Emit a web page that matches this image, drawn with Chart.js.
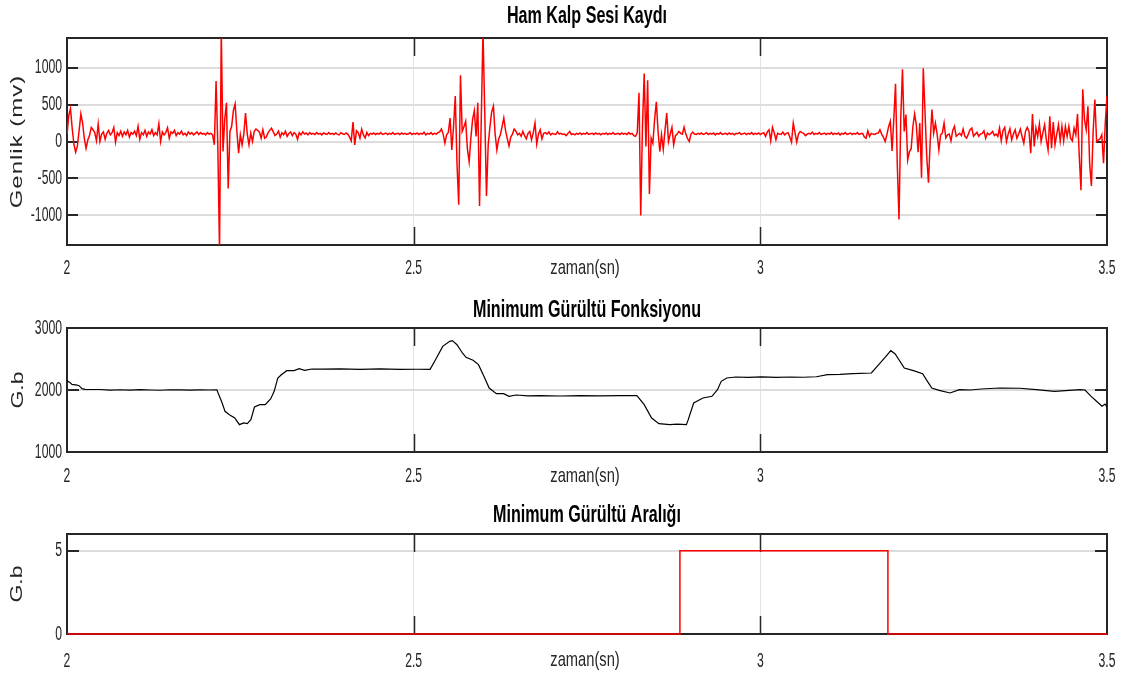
<!DOCTYPE html>
<html>
<head>
<meta charset="utf-8">
<script src="https://cdn.jsdelivr.net/npm/chart.js@4.4.1/dist/chart.umd.min.js"></script>
<style>
  html, body { margin: 0; padding: 0; background: #fff; }
  #wrap { position: relative; width: 1131px; height: 678px; overflow: hidden; }
  canvas { position: absolute; left: 0; }
</style>
</head>
<body>
<div id="wrap">
  <canvas id="raw" width="1131" height="285" style="top:0px"></canvas>
  <canvas id="noise" width="1131" height="205" style="top:285px"></canvas>
  <canvas id="range" width="1131" height="188" style="top:490px"></canvas>
</div>
<script>
// ---- time axis shared by the three panels ----
const startTime = 2;          // s
const sampleRate = 400;       // Hz, raw recording
const xTicks = [2, 2.5, 3, 3.5];

// ---- raw heart sound recording (mV), one value per sample ----
const rawMv = [
  91, 350, 445, 180, -40, -145, -60, 150, 373, 250,
  40, -91, 20, 80, 190, 160, 120, 10, 236, 0,
  100, 130, 30, 110, 150, 90, 120, 190, -10, 120,
  80, 140, 70, 130, 90, 150, 60, 120, 100, 140,
  80, 205, 30, 120, 90, 150, 70, 130, 100, 160,
  80, 120, 90, 240, 0, 130, 90, 120, 185, 45,
  130, 110, 150, 80, 120, 100, 140, 90, 110, 80,
  130, 100, 120, 90, 110, 130, 95, 120, 100, 110,
  90, 120, 100, 110, 90, -45, 818, -45, -1480, 1500,
  -136, 300, 523, -636, 136, 205, 420, 509, 140, -159,
  91, -45, 100, 386, 100, -45, 114, 0, 136, 168,
  150, 130, 45, 160, 45, 60, 120, 150, 180, 130,
  80, 100, 140, 60, 120, 90, 140, 70, 110, 130,
  80, 120, 100, 30, 120, 90, 130, 100, 115, 90,
  120, 100, 110, 95, 120, 100, 110, 90, 115, 105,
  95, 120, 100, 110, 95, 115, 100, 90, 120, 105,
  95, 115, 100, 60, 9, 264, -45, 145, 120, 45,
  168, 90, 50, 123, 80, 110, 100, 115, 95, 110,
  100, 120, 95, 105, 115, 95, 110, 100, 120, 95,
  105, 110, 95, 115, 100, 110, 95, 105, 120, 95,
  110, 100, 115, 95, 110, 100, 125, 90, 110, 100,
  120, 95, 110, 100, 120, 130, 168, 100, -23, 90,
  123, 318, -114, 200, 614, -300, -855, 895, 136, 200,
  273, -100, -273, 45, 300, 418, 68, 523, -873, 300,
  1500, 400, -736, -45, 200, 400, 477, 100, -114, 30,
  91, 200, 318, 150, 40, -59, 60, 100, 168, 140,
  90, 110, 70, 136, 80, 36, 110, 136, 23, 120,
  250, -36, 100, 159, 36, 110, 120, 100, 130, 90,
  110, 100, 95, 130, 100, 110, 95, 100, 80, 110,
  136, 95, 105, 90, 110, 100, 115, 95, 110, 100,
  120, 95, 105, 110, 95, 115, 100, 110, 90, 110,
  100, 115, 95, 110, 100, 120, 95, 105, 110, 95,
  115, 100, 110, 95, 120, 100, 110, 80, 70, 120,
  659, -1000, 200, 918, -68, 827, -709, 45, -23, 300,
  536, 136, -136, 91, -105, 150, 386, 0, 100, 191,
  -45, 80, 100, 136, 110, 100, 195, 100, 40, 0,
  100, 127, 100, 95, 110, 100, 115, 95, 105, 120,
  95, 110, 100, 115, 90, 110, 100, 120, 95, 105,
  110, 95, 115, 100, 110, 90, 110, 105, 120, 95,
  105, 115, 95, 110, 100, 120, 95, 110, 100, 115,
  95, 110, 120, 70, 130, 159, 9, 191, 120, 23,
  110, 100, 95, 127, 90, 110, 120, 60, -9, 250,
  120, -9, 100, 136, 120, 110, 80, 100, 110, 100,
  127, 95, 110, 100, 120, 95, 105, 115, 95, 110,
  100, 120, 95, 110, 100, 115, 90, 110, 100, 120,
  95, 105, 115, 95, 110, 100, 120, 95, 105, 110,
  60, 45, 145, 70, 110, 100, 95, 110, 114, 159,
  100, 60, 0, 91, 200, 273, -127, 300, 782, -300,
  -1055, 300, 977, 136, 364, -250, -136, -100, 200, 373,
  227, -145, 250, -491, 991, 400, -200, -559, 0, 432,
  114, 250, 100, -114, 91, 114, 250, 50, 91, 100,
  9, 150, 205, 70, 91, 110, 80, 168, 70, 45,
  100, 160, 182, 70, 100, 123, 70, 100, 110, 145,
  45, 114, 91, 110, 136, 80, 100, 68, 182, 9,
  150, 191, 0, 100, 173, 23, 100, 159, 45, 100,
  168, 68, -23, 140, 191, 136, -159, 373, -68, 182,
  68, 236, 0, 120, 227, 23, -114, 341, -91, 264,
  -45, 100, 227, 9, 205, 9, 205, 68, 205, 45,
  9, 182, 91, 373, -200, -659, 705, 300, 159, 477,
  -300, -600, 136, 568, 0, 20, 36, 91, -295, 250,
  614
];
const rawTicks = [-1000, -500, 0, 500, 1000];

// ---- minimum noise function ----
const noiseTime = [
  2.0000, 2.0043, 2.0072, 2.0144, 2.0173, 2.0216, 2.0260, 2.0476, 2.0620, 2.0764,
  2.0908, 2.1053, 2.1197, 2.1341, 2.1486, 2.1630, 2.1774, 2.1918, 2.2050, 2.2161,
  2.2238, 2.2279, 2.2342, 2.2420, 2.2487, 2.2549, 2.2600, 2.2652, 2.2704, 2.2782,
  2.2859, 2.2937, 2.2988, 2.3040, 2.3092, 2.3169, 2.3273, 2.3350, 2.3428, 2.3531,
  2.3687, 2.3938, 2.4226, 2.4514, 2.4803, 2.5050, 2.5237, 2.5315, 2.5419, 2.5521,
  2.5557, 2.5625, 2.5703, 2.5755, 2.5857, 2.5935, 2.6013, 2.6089, 2.6193, 2.6297,
  2.6375, 2.6477, 2.6650, 2.6822, 2.7111, 2.7399, 2.7688, 2.7976, 2.8220, 2.8325,
  2.8432, 2.8537, 2.8696, 2.8801, 2.8934, 2.8960, 2.9039, 2.9172, 2.9303, 2.9382,
  2.9436, 2.9515, 2.9646, 2.9830, 3.0017, 3.0230, 3.0428, 3.0620, 3.0809, 3.0967,
  3.1150, 3.1336, 3.1602, 3.1707, 3.1812, 3.1882, 3.1945, 3.2076, 3.2209, 3.2341,
  3.2394, 3.2473, 3.2579, 3.2737, 3.2870, 3.3030, 3.3186, 3.3451, 3.3745, 3.3979,
  3.4243, 3.4612, 3.4683, 3.4771, 3.4877, 3.4929, 3.4971, 3.5000
];
const noiseLevel = [
  2150, 2120, 2090, 2080, 2070, 2022, 2010, 2008, 1998, 2004,
  1997, 2005, 2000, 1996, 2004, 2001, 1997, 2003, 2000, 2002,
  1790, 1656, 1600, 1548, 1441, 1468, 1457, 1522, 1726, 1763,
  1763, 1855, 1978, 2194, 2247, 2312, 2312, 2344, 2317, 2339,
  2336, 2342, 2334, 2340, 2333, 2335, 2332, 2489, 2704, 2785,
  2796, 2731, 2597, 2527, 2479, 2409, 2220, 2032, 1941, 1941,
  1898, 1919, 1905, 1910, 1903, 1909, 1904, 1910, 1908, 1763,
  1548, 1457, 1441, 1448, 1441, 1522, 1790, 1871, 1898, 2005,
  2140, 2194, 2210, 2205, 2212, 2204, 2210, 2206, 2214, 2247,
  2252, 2263, 2274, 2409, 2543, 2634, 2581, 2355, 2312, 2263,
  2167, 2032, 1995, 1952, 2005, 2000, 2016, 2032, 2028, 2005,
  1978, 2005, 2000, 1898, 1790, 1737, 1774, 1726
];
const noiseTicks = [1000, 2000, 3000];

// ---- minimum noise interval (step signal) ----
const rangeTime = [2, 2.884, 3.184, 3.5];
const rangeLevel = [0, 5, 0, 0];
const rangeTicks = [0, 5];

// ---- look ----
const INK = '#262626';
const GRID = '#dcdcdc';
const FONT = '"Liberation Sans", Arial, Helvetica, sans-serif';
const TICK_SQUEEZE = 0.61;   // horizontal squeeze of tick lettering
const TEXT_SQUEEZE = 0.70;   // horizontal squeeze of titles and axis labels

// MATLAB-like axes box, inner tick marks, titles and axis labels
const framePlugin = {
  id: 'frame',
  beforeInit(chart) {
    const ctx = chart.ctx;
    const plain = ctx.fillText.bind(ctx);
    ctx.plainFillText = plain;
    ctx.squeeze = TICK_SQUEEZE;
    ctx.fillText = function (text, x, y, maxWidth) {
      const k = this.squeeze;
      this.save();
      this.translate(x, y);
      this.scale(k, 1);
      if (maxWidth === undefined) plain(text, 0, 0);
      else plain(text, 0, 0, maxWidth / k);
      this.restore();
    };
  },
  beforeDatasetsDraw(chart, args, opts) {
    const { ctx, chartArea: a, scales: { x, y } } = chart;
    ctx.save();
    ctx.strokeStyle = INK;
    ctx.lineWidth = 2;
    ctx.beginPath();
    y.ticks.forEach(t => {
      if (t.value <= y.min || t.value >= y.max) return;
      const py = Math.round(y.getPixelForValue(t.value));
      ctx.moveTo(a.left, py); ctx.lineTo(a.left + opts.yTickLen, py);
      ctx.moveTo(a.right, py); ctx.lineTo(a.right - opts.yTickLen, py);
    });
    ctx.stroke();
    ctx.lineWidth = 1.5;
    ctx.beginPath();
    x.ticks.forEach(t => {
      if (t.value <= x.min || t.value >= x.max) return;
      const px = Math.round(x.getPixelForValue(t.value)) + 0.5;
      ctx.moveTo(px, a.top); ctx.lineTo(px, a.top + opts.xTickLen);
      ctx.moveTo(px, a.bottom); ctx.lineTo(px, a.bottom - opts.xTickLen);
    });
    ctx.stroke();
    ctx.lineWidth = 2;
    ctx.strokeRect(a.left, a.top, a.right - a.left, a.bottom - a.top);
    ctx.restore();
  },
  afterDraw(chart, args, opts) {
    const { ctx, chartArea: a } = chart;
    const cx = (a.left + a.right) / 2;
    ctx.save();
    ctx.squeeze = TEXT_SQUEEZE;
    ctx.textAlign = 'center';
    ctx.textBaseline = 'middle';
    ctx.fillStyle = '#000';
    ctx.font = 'bold 23px ' + FONT;
    ctx.fillText(opts.title, cx, opts.titleY);
    ctx.fillStyle = INK;
    ctx.font = '21px ' + FONT;
    ctx.fillText(opts.xTitle, cx - 2, a.bottom + opts.xTitleDy);
    ctx.translate(opts.yTitleX, (a.top + a.bottom) / 2);
    ctx.scale(TEXT_SQUEEZE, 1);
    ctx.rotate(-Math.PI / 2);
    ctx.font = opts.yTitleSize + 'px ' + FONT;
    ctx.letterSpacing = opts.yTitleSpacing;
    ctx.plainFillText(opts.yTitle, 0, 0);
    ctx.restore();
    ctx.squeeze = TICK_SQUEEZE;
  }
};

const tickFont = { family: FONT, size: 20 };

function makePanel(id, cfg) {
  const edgeColor = (lo, hi, col) => c =>
    (c.tick && (c.tick.value <= lo || c.tick.value >= hi)) ? 'rgba(0,0,0,0)' : col;
  return new Chart(document.getElementById(id), {
    type: 'line',
    data: { datasets: cfg.datasets },
    options: {
      responsive: false,
      animation: false,
      devicePixelRatio: 1,
      events: [],
      layout: { padding: { top: cfg.plotTop, right: 24, bottom: 0, left: 0 } },
      plugins: {
        legend: { display: false },
        tooltip: { enabled: false },
        frame: cfg.frame
      },
      scales: {
        x: {
          type: 'linear',
          min: xTicks[0],
          max: xTicks[xTicks.length - 1],
          afterFit: s => { s.height = cfg.xAxisHeight; s.paddingLeft = 0; s.paddingRight = 0; },
          afterBuildTicks: s => { s.ticks = xTicks.map(v => ({ value: v })); },
          ticks: {
            autoSkip: false, maxRotation: 0, padding: cfg.xLabelPad,
            font: tickFont, color: INK, callback: v => String(v)
          },
          grid: { color: edgeColor(xTicks[0], xTicks[xTicks.length - 1], '#e2e2e2'), lineWidth: 1, drawTicks: false },
          border: { display: false }
        },
        y: {
          type: 'linear',
          min: cfg.yMin,
          max: cfg.yMax,
          afterFit: s => { s.width = 67; s.paddingTop = 0; s.paddingBottom = 0; },
          afterBuildTicks: s => { s.ticks = cfg.yTicks.map(v => ({ value: v })); },
          ticks: { padding: 5, font: tickFont, color: INK, callback: v => String(v) },
          grid: { color: edgeColor(cfg.yMin, cfg.yMax, GRID), lineWidth: 2, drawTicks: false },
          border: { display: false }
        }
      }
    },
    plugins: [framePlugin]
  });
}

makePanel('raw', {
  plotTop: 38, xAxisHeight: 40, xLabelPad: 11,
  yMin: -1400, yMax: 1400, yTicks: rawTicks,
  datasets: [{
    data: rawMv.map((v, i) => ({ x: startTime + i / sampleRate, y: v })),
    borderColor: '#ff0000', borderWidth: 1.5, pointRadius: 0, tension: 0, fill: false
  }],
  frame: {
    title: 'Ham Kalp Sesi Kaydı', titleY: 17,
    xTitle: 'zaman(sn)', xTitleDy: 23,
    yTitle: 'Genlik (mv)', yTitleX: 17, yTitleSize: 24, yTitleSpacing: '1px',
    yTickLen: 11, xTickLen: 18
  }
});

makePanel('noise', {
  plotTop: 43, xAxisHeight: 38, xLabelPad: 12,
  yMin: 1000, yMax: 3000, yTicks: noiseTicks,
  datasets: [{
    data: noiseTime.map((t, i) => ({ x: t, y: noiseLevel[i] })),
    borderColor: '#000000', borderWidth: 1.2, pointRadius: 0, tension: 0, fill: false
  }],
  frame: {
    title: 'Minimum Gürültü Fonksiyonu', titleY: 26,
    xTitle: 'zaman(sn)', xTitleDy: 24,
    yTitle: 'G.b', yTitleX: 19, yTitleSize: 23, yTitleSpacing: '0px',
    yTickLen: 12, xTickLen: 18
  }
});

makePanel('range', {
  plotTop: 44, xAxisHeight: 44, xLabelPad: 15,
  yMin: 0, yMax: 6, yTicks: rangeTicks,
  datasets: [{
    data: rangeTime.map((t, i) => ({ x: t, y: rangeLevel[i] })),
    stepped: 'before', clip: 4,
    borderColor: '#ff0000', borderWidth: 1.5, pointRadius: 0, fill: false
  }],
  frame: {
    title: 'Minimum Gürültü Aralığı', titleY: 26,
    xTitle: 'zaman(sn)', xTitleDy: 26,
    yTitle: 'G.b', yTitleX: 18, yTitleSize: 23, yTitleSpacing: '0px',
    yTickLen: 12, xTickLen: 18
  }
});
</script>
</body>
</html>
